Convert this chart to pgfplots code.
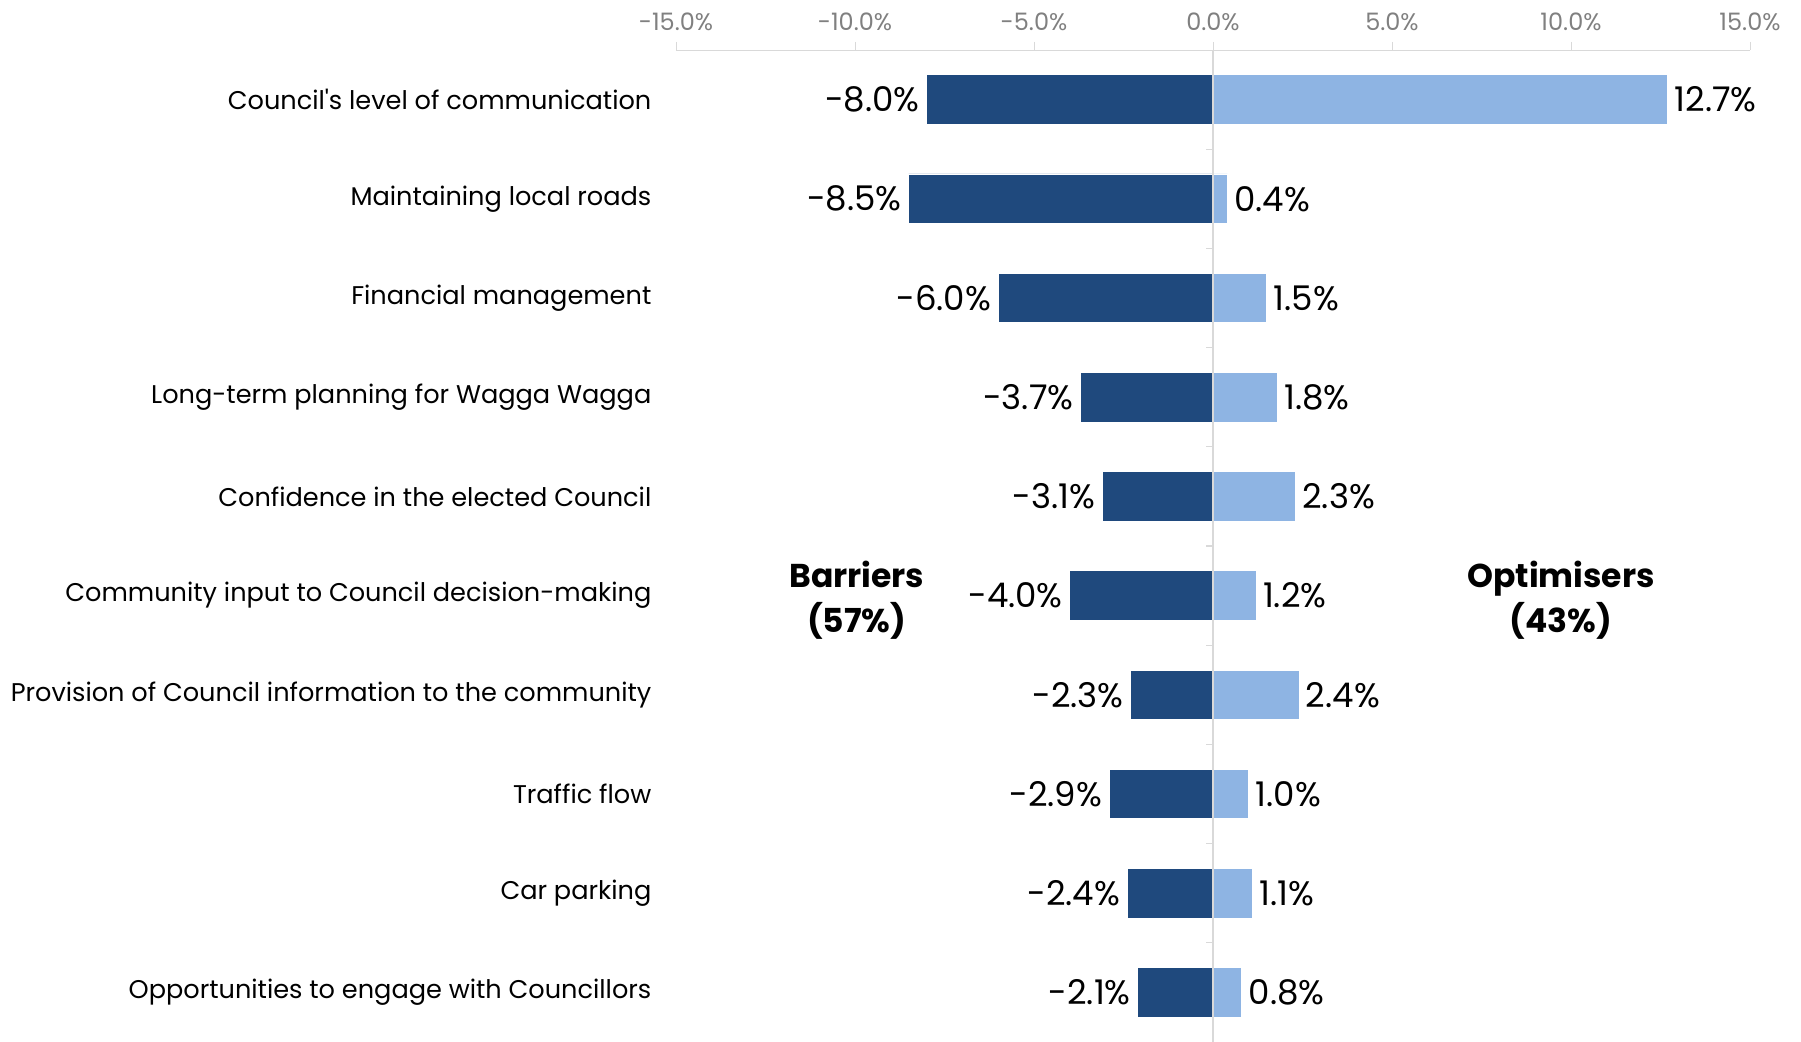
\documentclass[border=0pt]{standalone}
\usepackage{pgfplots}
\pgfplotsset{compat=1.18}
\usepackage{fontspec}
\setmainfont{Poppins}
\definecolor{darkbar}{HTML}{1F497D}
\definecolor{lightbar}{HTML}{8EB4E3}
\definecolor{axgray}{HTML}{D9D9D9}
\definecolor{tickgray}{HTML}{808080}
\begin{document}
\begin{tikzpicture}
\begin{axis}[name=ax, at={(0,0)}, anchor=south west,
  scale only axis, width=537pt, height=496pt,
  xmin=-15, xmax=15, ymin=0.5, ymax=10.5, y dir=reverse,
  clip=false,
  axis x line=top, axis y line=left,
  x axis line style={-, draw=axgray},
  y axis line style={draw=none},
  xtick={-15,-10,...,15},
  xticklabel={\pgfmathprintnumber[fixed,fixed zerofill,precision=1]{\tick}\%},
  xticklabel style={font=\fontsize{12}{14}\selectfont, text=tickgray, yshift=2.3pt},
  /pgf/number format/assume math mode=true,
  tick align=outside, major tick length=4pt,
  x tick style={draw=axgray},
  ytick={1,...,10},
  y tick style={draw=none},
  yticklabels={Council\textquotesingle s level of communication, Maintaining local roads, Financial management, Long-term planning for Wagga Wagga, Confidence in the elected Council, Community input to Council decision-making, Provision of Council information to the community, Traffic flow, Car parking, Opportunities to engage with Councillors},
  yticklabel style={font=\fontsize{12.8}{15}\selectfont, text=black, xshift=-4.8pt},
  point meta=x,
  nodes near coords={\pgfmathprintnumber[fixed,fixed zerofill,precision=1]{\pgfplotspointmeta}\%},
]
\addplot[xbar, bar width=0.5, bar shift=0pt, fill=darkbar, draw=white, line width=0.4pt,
  nodes near coords style={anchor=east, font=\fontsize{17}{20}\selectfont, text=black}]
  coordinates {(-8.0,1) (-8.5,2) (-6.0,3) (-3.7,4) (-3.1,5) (-4.0,6) (-2.3,7) (-2.9,8) (-2.4,9) (-2.1,10)};
\addplot[xbar, bar width=0.5, bar shift=0pt, fill=lightbar, draw=white, line width=0.4pt,
  nodes near coords style={anchor=west, font=\fontsize{17}{20}\selectfont, text=black}]
  coordinates {(12.7,1) (0.4,2) (1.5,3) (1.8,4) (2.3,5) (1.2,6) (2.4,7) (1.0,8) (1.1,9) (0.8,10)};
\draw[axgray, line width=0.6pt] (axis cs:0,0.5) -- (axis cs:0,10.5);
\pgfplotsinvokeforeach{1.5,2.5,3.5,4.5,5.5,6.5,7.5,8.5,9.5}{
  \draw[axgray, line width=0.6pt] (axis cs:0,#1) -- ([xshift=-3.5pt]axis cs:0,#1);
}
\node[font=\bfseries\fontsize{16.5}{22.4}\selectfont, align=center] at (axis cs:-9.95,6.05) {Barriers\\(57\%)};
\node[font=\bfseries\fontsize{16.5}{22.4}\selectfont, align=center] at (axis cs:9.72,6.05) {Optimisers\\(43\%)};
\end{axis}
\pgfresetboundingbox
\path (ax.south west) ++(-338pt,0) rectangle ([shift={(25.5pt,25pt)}]ax.north east);
\end{tikzpicture}
\end{document}
